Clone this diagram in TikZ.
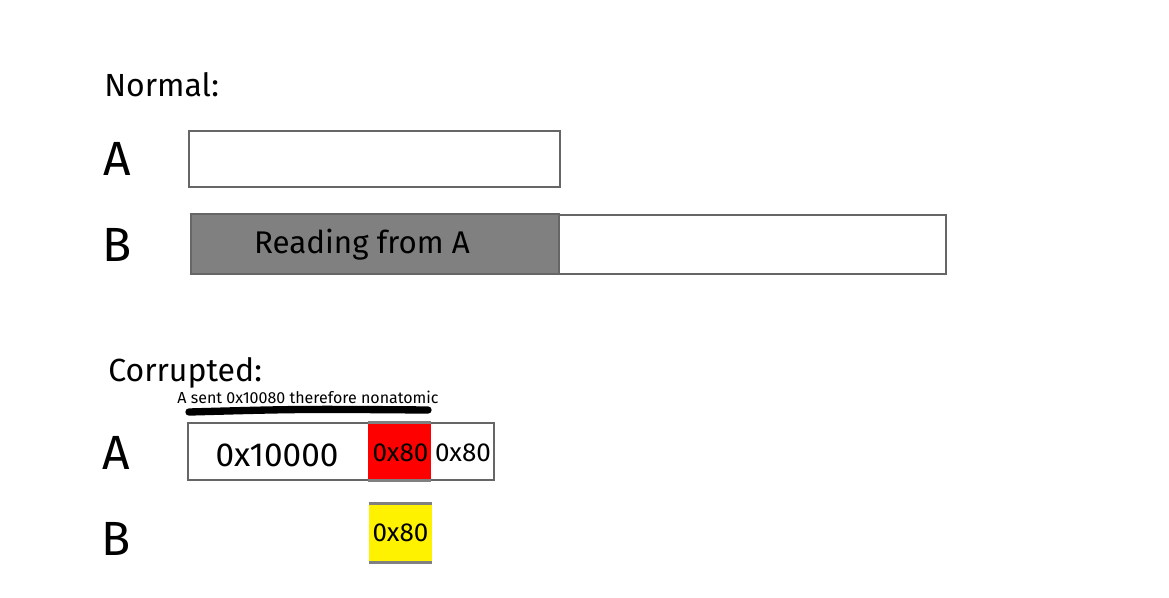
\documentclass[tikz,border=0pt]{standalone}
\usepackage{fontspec}
\setmainfont{Fira Sans}
\begin{document}
\begin{tikzpicture}[x=0.75pt,y=-0.75pt,
  box/.style={draw=black!60,line width=1pt},
  lab/.style={inner sep=0pt,anchor=center},
  big/.style={font=\fontsize{36}{40}\selectfont},
  head/.style={font=\fontsize{24}{28}\selectfont},
  mid/.style={font=\fontsize{23.5}{28}\selectfont},
  hexf/.style={font=\fontsize{25}{28}\selectfont},
  small/.style={font=\fontsize{19.5}{22}\selectfont},
  tiny/.style={font=\fontsize{12}{14}\selectfont}]
\useasboundingbox (0,0) rectangle (1169,597);
% Normal section
\node[lab,head,anchor=west] (normal) at (104,85) {Normal:};
\node[lab,big] (na) at (117,159) {A};
\node[lab,big] (nb) at (117,245) {B};
\draw[box] (189,131) rectangle (560,187);
\node[box,fill=black!50,minimum width=368*0.75pt,minimum height=60*0.75pt,inner sep=0pt] (read) at (375,244) {};
\node[lab,mid] at (362,245) {Reading from A};
\draw[box] (559,215) -- (946,215) -- (946,274) -- (559,274);
% Corrupted section
\node[lab,head,anchor=west] (corr) at (108,373) {Corrupted:};
\node[lab,tiny] (sent) at (308,397) {A sent 0x10080 therefore nonatomic};
\coordinate (ls) at (189,412);
\coordinate (le) at (428,410);
\draw[line width=5.5pt,line cap=round] (ls) .. controls (300,409) .. (le);
\node[lab,big] (ca) at (116,453) {A};
\node[lab,big] (cb) at (116,539) {B};
\draw[box] (188,423) rectangle (494,480);
\node[lab,hexf] (hex) at (277,455) {0x10000};
\node[fill=red,minimum width=63*0.75pt,minimum height=57*0.75pt,inner sep=0pt] (red) at (399.5,451.5) {};
\draw[black!50,line width=2pt] (red.north west) -- (red.north east) (red.south west) -- (red.south east);
\node[lab,small] at (400.5,453) {0x80};
\node[lab,small] (w80) at (463,453) {0x80};
\node[fill=yellow,minimum width=63*0.75pt,minimum height=58*0.75pt,inner sep=0pt] (yel) at (400.5,533) {};
\draw[black!50,line width=2pt] (yel.north west) -- (yel.north east) (yel.south west) -- (yel.south east);
\node[lab,small] at (yel.center) {0x80};
\end{tikzpicture}
\end{document}
